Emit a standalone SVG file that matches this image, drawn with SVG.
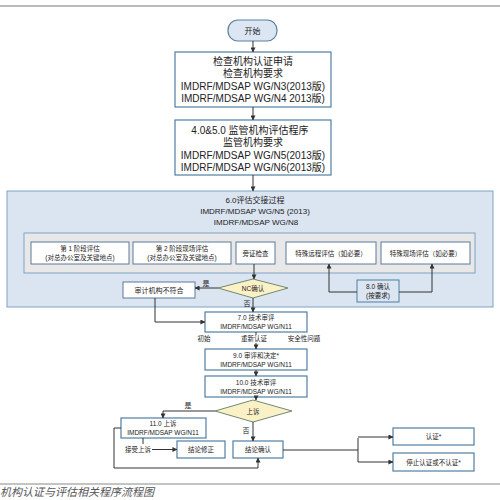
<svg xmlns="http://www.w3.org/2000/svg" width="500" height="500" viewBox="0 0 500 500">
<defs>
<style>
text{font-family:"Liberation Sans","Noto Sans CJK SC",sans-serif;fill:#222;text-anchor:middle}
.box{fill:#fff;stroke:#4f7fa3;stroke-width:1.2}
.sbox{fill:#fff;stroke:#5b7a9a;stroke-width:1}
.ln{fill:none;stroke:#333;stroke-width:1}
.big{font-size:10px}
.mid{font-size:8px}
.sm{font-size:6.5px}
.lbl{font-size:7px}
</style>
<marker id="ar" viewBox="0 0 6 6" refX="5.5" refY="3" markerWidth="5" markerHeight="5" orient="auto">
<path d="M0,0 L6,3 L0,6 z" fill="#333"/>
</marker>
</defs>
<rect x="0" y="0" width="500" height="500" fill="#fff"/>
<line x1="0" y1="6" x2="500" y2="6" stroke="#777" stroke-width="1.2"/>
<line x1="0" y1="484" x2="500" y2="484" stroke="#888" stroke-width="1"/>
<text x="0" y="496" style="font-size:11px;text-anchor:start;fill:#555;font-style:italic">机构认证与评估相关程序流程图</text>

<g id="container">
<rect x="7" y="191" width="486" height="116" fill="#dbe4f1" stroke="#7fa3c4" stroke-width="1"/>
<text class="mid" x="255" y="203">6.0评估交接过程</text>
<text class="mid" x="255" y="214">IMDRF/MDSAP WG/N5 (2013)</text>
<text class="mid" x="256" y="225">IMDRF/MDSAP WG/N8</text>
<rect x="24" y="233" width="451" height="40" fill="#e8e8e8" stroke="#7fa3c4" stroke-width="1"/>
</g>

<g id="start">
<rect x="228" y="20" width="49" height="21" rx="10" fill="#dce6f2" stroke="#5a7fa3" stroke-width="1.2"/>
<text class="mid" x="252.5" y="34">开始</text>
</g>
<g id="n1">
<rect class="box" x="175" y="52" width="156" height="55"/>
<text class="big" x="253" y="65">检查机构认证申请</text>
<text class="big" x="253" y="77">检查机构要求</text>
<text class="big" x="253" y="90">IMDRF/MDSAP WG/N3(2013版)</text>
<text class="big" x="253" y="102">IMDRF/MDSAP WG/N4  2013版)</text>
</g>
<g id="n2">
<rect class="box" x="175" y="120" width="156" height="55"/>
<text class="big" x="250" y="134">4.0&amp;5.0 监管机构评估程序</text>
<text class="big" x="253" y="146">监管机构要求</text>
<text class="big" x="253" y="159">IMDRF/MDSAP WG/N5(2013版)</text>
<text class="big" x="253" y="171">IMDRF/MDSAP WG/N6(2013版)</text>
</g>
<g id="s1">
<rect class="sbox" x="31" y="242" width="98" height="22"/>
<text class="sm" x="80" y="251">第 1 阶段评估</text>
<text class="sm" x="80" y="260">(对总办公室及关键地点)</text>
</g>
<g id="s2">
<rect class="sbox" x="133" y="242" width="98" height="22"/>
<text class="sm" x="182" y="251">第 2 阶段现场评估</text>
<text class="sm" x="182" y="260">(对总办公室及关键地点)</text>
</g>
<g id="s3">
<rect class="sbox" x="236" y="242" width="39" height="22"/>
<text class="sm" x="255.5" y="255.5">旁证检查</text>
</g>
<g id="s4">
<rect class="sbox" x="286" y="242" width="90" height="22"/>
<text class="sm" x="331" y="255.5">特殊远程评估（如必要）</text>
</g>
<g id="s5">
<rect class="sbox" x="381" y="242" width="89" height="22"/>
<text class="sm" x="425.5" y="255.5">特殊现场评估（如必要）</text>
</g>
<g id="nc">
<polygon points="218,288 253,279 288,288 253,298" fill="#fbf1c6" stroke="#6f8a70" stroke-width="1"/>
<text class="sm" x="253" y="290.5">NC确认</text>
</g>
<g id="audit">
<rect class="sbox" x="123" y="282" width="72" height="16"/>
<text class="lbl" x="159" y="292.5">审计机构不符合</text>
</g>
<g id="n8">
<rect x="357" y="280" width="42" height="22" fill="#dce6f2" stroke="#4f7fa3" stroke-width="1"/>
<text class="sm" x="378" y="289">8.0 确认</text>
<text class="sm" x="378" y="298">(按要求)</text>
</g>
<g id="n7">
<rect class="box" x="205" y="312" width="102" height="20"/>
<text class="sm" x="256" y="320">7.0 技术审评</text>
<text class="sm" x="256" y="329">IMDRF/MDSAP WG/N11</text>
</g>
<g id="n9">
<rect class="box" x="205" y="349" width="102" height="21"/>
<text class="sm" x="256" y="357.5">9.0 审评和决定*</text>
<text class="sm" x="256" y="366.5">IMDRF/MDSAP WG/N11</text>
</g>
<g id="n10">
<rect class="box" x="205" y="376" width="102" height="21"/>
<text class="sm" x="256" y="384.5">10.0 技术审评</text>
<text class="sm" x="256" y="393.5">IMDRF/MDSAP WG/N11</text>
</g>
<g id="appeal">
<polygon points="215,411 253,400 292,411 253,422" fill="#fbf1c6" stroke="#6f8a70" stroke-width="1"/>
<text class="sm" x="253" y="413.5">上诉</text>
</g>
<g id="n11">
<rect class="box" x="121" y="418" width="85" height="20"/>
<text class="sm" x="163" y="426">11.0 上诉</text>
<text class="sm" x="163" y="435">IMDRF/MDSAP WG/N11</text>
</g>
<g id="fix">
<rect class="box" x="177" y="441" width="48" height="17"/>
<text class="sm" x="201" y="452">结论修正</text>
</g>
<g id="confirm">
<rect class="box" x="233" y="441" width="50" height="17"/>
<text class="sm" x="258" y="452">结论确认</text>
</g>
<g id="cert">
<rect class="box" x="393" y="428" width="81" height="17"/>
<text class="sm" x="433.5" y="439">认证*</text>
</g>
<g id="stop">
<rect class="box" x="393" y="453" width="81" height="18"/>
<text class="sm" x="433.5" y="464.5">停止认证或不认证*</text>
</g>

<g id="connectors">
<line class="ln" x1="253" y1="41" x2="253" y2="52" marker-end="url(#ar)"/>
<line class="ln" x1="253" y1="107" x2="253" y2="120" marker-end="url(#ar)"/>
<line class="ln" x1="253" y1="175" x2="253" y2="191" marker-end="url(#ar)"/>
<line class="ln" x1="254" y1="264" x2="254" y2="279" marker-end="url(#ar)"/>
<line class="ln" x1="218" y1="288" x2="195" y2="288" marker-end="url(#ar)"/>
<text class="lbl" x="206" y="286">是</text>
<line class="ln" x1="253" y1="298" x2="253" y2="312" marker-end="url(#ar)"/>
<text class="lbl" x="247" y="306">否</text>
<polyline class="ln" points="357,292 329,292 329,264" marker-end="url(#ar)"/>
<polyline class="ln" points="399,292 432,292 432,264" marker-end="url(#ar)"/>
<polyline class="ln" points="155,298 155,322 205,322" marker-end="url(#ar)"/>
<line class="ln" x1="256" y1="332" x2="256" y2="335"/>
<text class="sm" x="204" y="341">初始</text>
<text class="sm" x="254" y="341">重新认证</text>
<text class="sm" x="304" y="341">安全性问题</text>
<line class="ln" x1="256" y1="343" x2="256" y2="349" marker-end="url(#ar)"/>
<line class="ln" x1="256" y1="370" x2="256" y2="376" marker-end="url(#ar)"/>
<line class="ln" x1="256" y1="397" x2="256" y2="400" marker-end="url(#ar)"/>
<polyline class="ln" points="215,411 163,411 163,418" marker-end="url(#ar)"/>
<text class="lbl" x="188" y="408">是</text>
<line class="ln" x1="253" y1="422" x2="253" y2="441" marker-end="url(#ar)"/>
<text class="lbl" x="246" y="433">否</text>
<line class="ln" x1="143" y1="438" x2="143" y2="444"/>
<text class="sm" x="138" y="451.5">接受上诉</text>
<line class="ln" x1="152" y1="449.5" x2="177" y2="449.5" marker-end="url(#ar)"/>
<polyline class="ln" points="121,428 114,428 114,468 258,468 258,458" marker-end="url(#ar)"/>
<polyline class="ln" points="283,450 358,450"/>
<polyline class="ln" points="358,438 358,462"/>
<line class="ln" x1="358" y1="437" x2="393" y2="437" marker-end="url(#ar)"/>
<line class="ln" x1="358" y1="462" x2="393" y2="462" marker-end="url(#ar)"/>
</g>
</svg>
